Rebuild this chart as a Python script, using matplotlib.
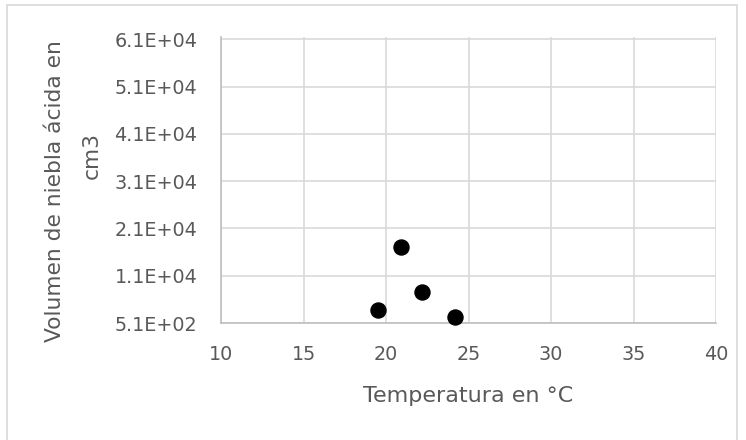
#! /usr/bin/env python3
# -*- coding: utf-8 -*-
"""Scatter chart: acid mist volume vs temperature."""
import matplotlib
matplotlib.use("Agg")
import matplotlib.pyplot as plt
from matplotlib.patches import Rectangle
from matplotlib.ticker import FuncFormatter, MultipleLocator

# Data
temperature = [19.5, 20.9, 22.2, 24.2]
volume = [3200, 16600, 7000, 1800]

x_ticks = [10, 15, 20, 25, 30, 35, 40]
y_min, y_max, y_step = 510, 61000, 10000

x_title = "Temperatura en °C"
y_title_lines = ["Volumen de niebla ácida en", "cm3"]

TEXT = "#595959"
GRID = "#d9d9d9"
W, H = 746, 440

plt.rcParams["font.family"] = ["DejaVu Sans"]

fig = plt.figure(figsize=(W / 100, H / 100), dpi=100)
ax = fig.add_axes([221 / W, 1 - 323 / H, (716 - 221) / W, (323 - 37) / H])

ax.scatter(temperature, volume, s=117, color="black", zorder=3, clip_on=False)

ax.set_xlim(x_ticks[0], x_ticks[-1])
ax.set_xticks(x_ticks)
ax.set_ylim(y_min, y_max)
ax.yaxis.set_major_locator(MultipleLocator(y_step, offset=y_min))


def sci_label(val, pos):
    mant, exp = f"{val:.1E}".split("E")
    return f"{mant}E{exp[0]}{int(exp[1:]):02d}"


ax.yaxis.set_major_formatter(FuncFormatter(sci_label))

ax.grid(True, color=GRID, linewidth=1.2)
ax.set_axisbelow(True)
for side in ("top", "right"):
    ax.spines[side].set_visible(False)
for side in ("left", "bottom"):
    ax.spines[side].set_color("#bfbfbf")
    ax.spines[side].set_linewidth(1.2)

ax.tick_params(length=0, labelsize=13.8, labelcolor=TEXT)
ax.tick_params(axis="x", pad=16)
ax.tick_params(axis="y", pad=17)

# Axis titles placed in figure pixels (Excel-style wrapped y title)
fig.text(468.5 / W, 1 - 402 / H, x_title, fontsize=16, color=TEXT,
         ha="center", va="baseline")
for (cx, cy), line in zip([(55, 191), (92, 155)], y_title_lines):
    fig.text(cx / W, 1 - cy / H, line, fontsize=15.7, color=TEXT,
             rotation=90, rotation_mode="anchor", ha="center", va="center")

# Chart area border
fig.patches.append(Rectangle((7 / W, -0.02), 730 / W, 1.02 - 5 / H,
                             transform=fig.transFigure, fill=False,
                             edgecolor=GRID, linewidth=1.2))

fig.savefig("out.png", dpi=100)
